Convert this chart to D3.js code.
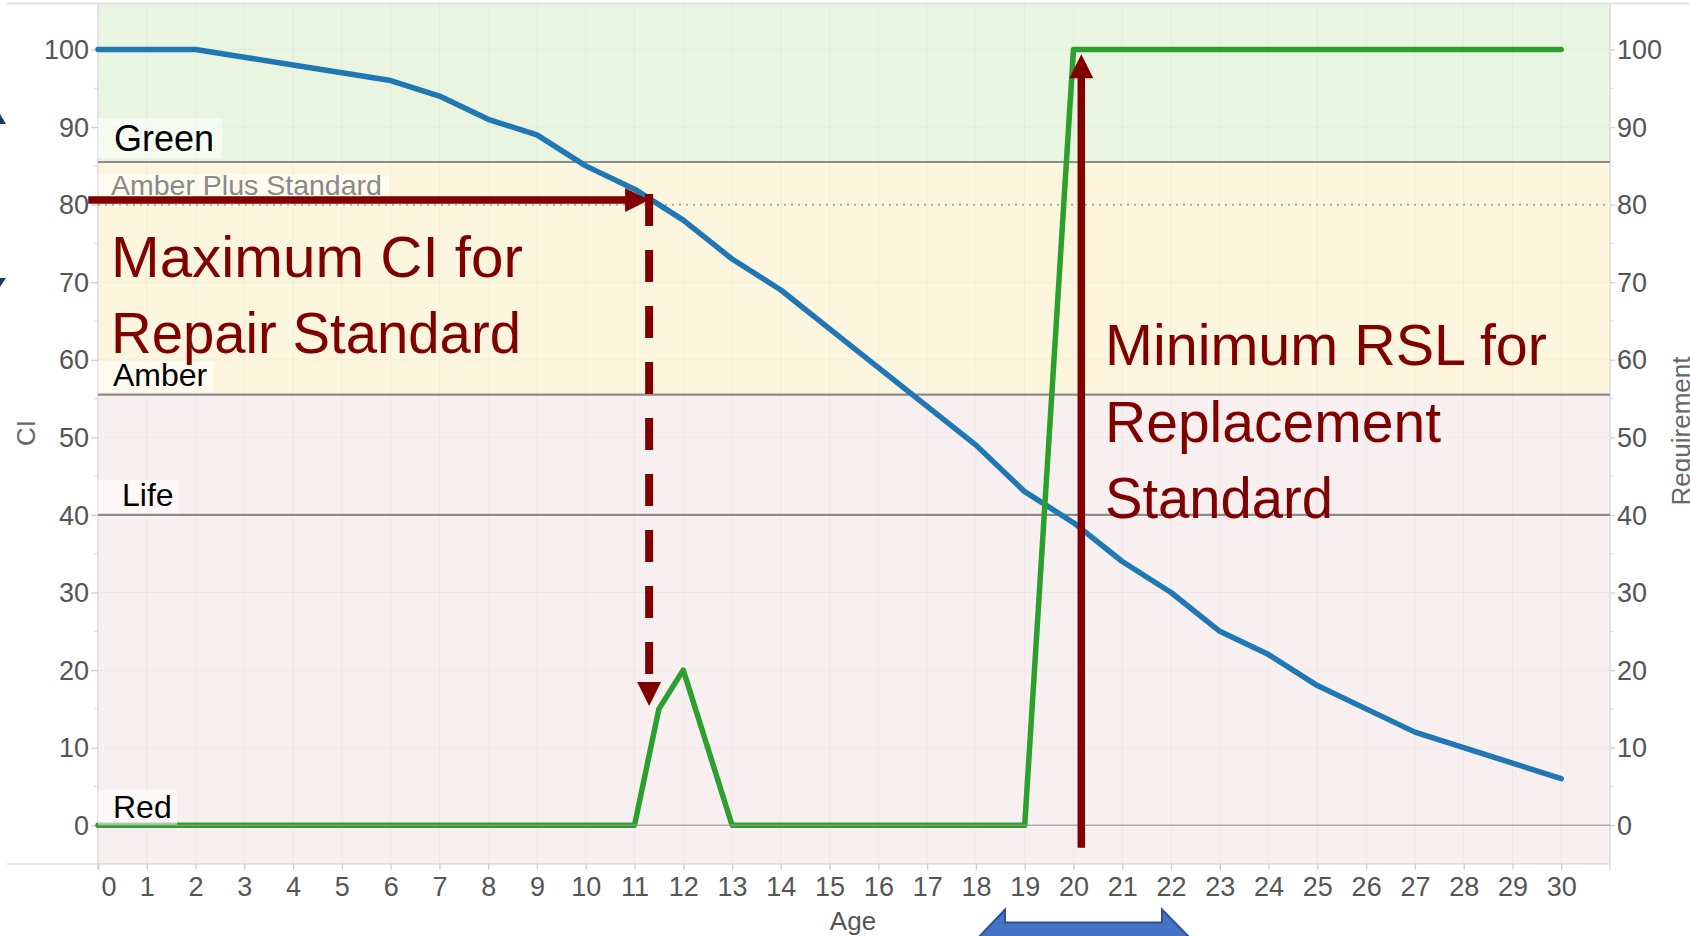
<!DOCTYPE html>
<html>
<head>
<meta charset="utf-8">
<script src="https://cdn.jsdelivr.net/npm/d3@7"></script>
<style>
  html, body { margin: 0; padding: 0; background: #fff; }
  svg { display: block; }
  text { font-family: "Liberation Sans", Arial, sans-serif; }
</style>
</head>
<body>
<svg id="chart" width="1690" height="936"></svg>
<script>
// ---------------- data ----------------
const ciAges = [0,1,2,3,4,5,6,7,8,9,10,11,12,13,14,15,16,17,18,19,20,21,22,23,24,25,26,27,28,29,30];
const ciValues = [100,100,100,99,98,97,96,94,91,89,85,82,78,73,69,64,59,54,49,43,39,34,30,25,22,18,15,12,10,8,6];

const reqAges = [0,1,2,3,4,5,6,7,8,9,10,11,11.5,12,13,14,15,16,17,18,19,20,21,22,23,24,25,26,27,28,29,30];
const reqValues = [0,0,0,0,0,0,0,0,0,0,0,0,15,20,0,0,0,0,0,0,0,100,100,100,100,100,100,100,100,100,100,100];

const xTicks = [0,1,2,3,4,5,6,7,8,9,10,11,12,13,14,15,16,17,18,19,20,21,22,23,24,25,26,27,28,29,30];
const yTicks = [0,10,20,30,40,50,60,70,80,90,100];
const yMinorTicks = [5,15,25,35,45,55,65,75,85,95];

const bandEdges = [106, 85.5, 55.5, -5];           // Green / Amber / Red bands
const bandNames = ["Green", "Amber", "Red"];
const refLines = [85.5, 55.5, 40];
const lifeValue = 40;
const amberPlusValue = 80;

const repairAge = 11.3, repairCI = 80.6;            // annotation: max CI for repair
const replaceAge = 20.16, replaceFrom = -2.9, replaceTo = 99.4;

// ---------------- layout ----------------
const svg = d3.select("#chart");
const L = 98, R = 1610, T = 3, B = 864;
const x = d3.scaleLinear().domain([0, 31]).range([L, R]);
const y = d3.scaleLinear().domain([-5, 106]).range([B, T]);

const bandColors = ["#e9f5e0", "#fdf6df", "#f8f0f0"];

// bands
const g0 = svg.append("g");
bandNames.forEach((n, i) => {
  g0.append("rect")
    .attr("x", L).attr("width", R - L)
    .attr("y", y(bandEdges[i])).attr("height", y(bandEdges[i + 1]) - y(bandEdges[i]))
    .attr("fill", bandColors[i]);
});

// gridlines
const grid = svg.append("g");
grid.selectAll("line.v").data(xTicks.concat([31])).join("line")
  .attr("x1", d => x(d)).attr("x2", d => x(d)).attr("y1", T).attr("y2", B)
  .attr("stroke", "rgba(0,0,0,0.035)").attr("stroke-width", 1);
grid.selectAll("line.h").data(yTicks).join("line")
  .attr("x1", L).attr("x2", R).attr("y1", d => y(d)).attr("y2", d => y(d))
  .attr("stroke", "rgba(0,0,0,0.03)").attr("stroke-width", 1);

// frame lines
svg.append("line").attr("x1", 7).attr("x2", 1690).attr("y1", 3.5).attr("y2", 3.5).attr("stroke", "#dcdcdc").attr("stroke-width", 1.5);
svg.append("line").attr("x1", 7).attr("x2", R).attr("y1", B).attr("y2", B).attr("stroke", "#dcdcdc").attr("stroke-width", 1.5);
svg.append("line").attr("x1", L).attr("x2", L).attr("y1", T).attr("y2", B + 6).attr("stroke", "#dcdcdc").attr("stroke-width", 1.5);
svg.append("line").attr("x1", R).attr("x2", R).attr("y1", T).attr("y2", B + 6).attr("stroke", "#dcdcdc").attr("stroke-width", 1.5);

// reference lines
svg.selectAll("line.ref").data(refLines).join("line")
  .attr("x1", L).attr("x2", R).attr("y1", d => y(d)).attr("y2", d => y(d))
  .attr("stroke", "#8c8c8c").attr("stroke-width", 2.2);
svg.append("line")
  .attr("x1", L).attr("x2", R).attr("y1", y(amberPlusValue)).attr("y2", y(amberPlusValue))
  .attr("stroke", "#a8a8a8").attr("stroke-width", 2).attr("stroke-dasharray", "2,5");

// axes
function styleAxis(g, fs) {
  g.select(".domain").remove();
  g.selectAll(".tick line").attr("stroke", "#cfcfcf").attr("stroke-width", 1.3);
  g.selectAll(".tick text").attr("fill", "#555").attr("font-size", fs)
    .attr("font-family", "'Liberation Sans', Arial, sans-serif");
}
const yl = svg.append("g").attr("transform", `translate(${L},0)`)
  .call(d3.axisLeft(y).tickValues(yTicks).tickSize(7).tickPadding(2));
styleAxis(yl, 27);
yl.selectAll(".tick text").attr("dy", "0.34em");

const yr = svg.append("g").attr("transform", `translate(${R},0)`)
  .call(d3.axisRight(y).tickValues(yTicks).tickSize(5).tickPadding(2));
styleAxis(yr, 27);
yr.selectAll(".tick text").attr("dy", "0.34em");

[L, R].forEach((ax, i) => {
  svg.selectAll(null).data(yMinorTicks).join("line")
    .attr("x1", ax).attr("x2", i === 0 ? ax - 4 : ax + 4)
    .attr("y1", d => y(d)).attr("y2", d => y(d))
    .attr("stroke", "#dedede").attr("stroke-width", 1.2);
});

const xa = svg.append("g").attr("transform", `translate(0,${B})`)
  .call(d3.axisBottom(x).tickValues(xTicks).tickSize(6).tickPadding(7));
styleAxis(xa, 27);
xa.selectAll(".tick text").filter(d => d === 0).attr("text-anchor", "start").attr("x", 3);

// axis titles
svg.append("text").attr("transform", "translate(35,433) rotate(-90)")
  .attr("text-anchor", "middle").attr("font-size", 26).attr("fill", "#666").text("CI");
svg.append("text").attr("x", 853).attr("y", 930)
  .attr("text-anchor", "middle").attr("font-size", 26).attr("fill", "#555").text("Age");
svg.append("text").attr("transform", "translate(1690,431) rotate(-90)")
  .attr("text-anchor", "middle").attr("font-size", 26).attr("fill", "#666").text("Requirement");

// data lines
const lineGen = d3.line().x(d => x(d[0])).y(d => y(d[1]));
svg.append("path").datum(ciAges.map((a, i) => [a, ciValues[i]]))
  .attr("d", lineGen).attr("fill", "none").attr("stroke", "#1f77b4")
  .attr("stroke-width", 5.5).attr("stroke-linejoin", "round").attr("stroke-linecap", "round");
svg.append("path").datum(reqAges.map((a, i) => [a, reqValues[i]]))
  .attr("d", lineGen).attr("fill", "none").attr("stroke", "#2ca02c")
  .attr("stroke-width", 5.5).attr("stroke-linejoin", "round").attr("stroke-linecap", "round");
// zero reference line over lines
svg.append("line").attr("x1", L).attr("x2", R).attr("y1", y(0)).attr("y2", y(0))
  .attr("stroke", "#999").attr("stroke-width", 1.6).attr("opacity", 0.75);

// reference labels with translucent boxes
const labels = [
  { t: "Green", v: bandEdges[1], fs: 36, col: "#000", w: 124, h: 40, off: 11, tx: 16 },
  { t: "Amber Plus Standard", v: amberPlusValue, fs: 28.5, col: "#8a8a8a", w: 291, h: 27, off: 9.5, tx: 13 },
  { t: "Amber", v: bandEdges[2], fs: 32, col: "#000", w: 115, h: 31, off: 9, tx: 15 },
  { t: "Life", v: lifeValue, fs: 32, col: "#000", w: 81, h: 33, off: 8.5, tx: 24 },
  { t: "Red", v: 0, fs: 32, col: "#000", w: 79, h: 35, off: 7.5, tx: 15 }
];
labels.forEach(l => {
  const base = y(l.v) - l.off;
  svg.append("rect").attr("x", L).attr("y", base - l.h + 7).attr("width", l.w).attr("height", l.h)
    .attr("fill", "rgba(255,255,255,0.55)");
  svg.append("text").attr("x", L + l.tx).attr("y", base).attr("font-size", l.fs)
    .attr("fill", l.col).text(l.t);
});

// annotations
const red = "#800000";
// horizontal arrow
const hy = y(repairCI), hx1 = x(-0.2), hx2 = x(repairAge);
svg.append("line").attr("x1", hx1).attr("x2", hx2 - 22).attr("y1", hy).attr("y2", hy)
  .attr("stroke", red).attr("stroke-width", 7.5);
svg.append("path").attr("d", `M${hx2},${hy} L${hx2 - 24},${hy - 12} L${hx2 - 24},${hy + 12} Z`).attr("fill", red);
// dashed vertical arrow down to requirement peak
const dx = x(repairAge), dTop = hy - 6, dTip = 706;
svg.append("line").attr("x1", dx).attr("x2", dx).attr("y1", dTop).attr("y2", dTip - 24)
  .attr("stroke", red).attr("stroke-width", 8).attr("stroke-dasharray", "32,24");
svg.append("path").attr("d", `M${dx},${dTip} L${dx - 12},${dTip - 24} L${dx + 12},${dTip - 24} Z`).attr("fill", red);
// vertical solid arrow up
const vx = x(replaceAge), vy1 = y(replaceFrom), vy2 = y(replaceTo);
svg.append("line").attr("x1", vx).attr("x2", vx).attr("y1", vy1).attr("y2", vy2 + 22)
  .attr("stroke", red).attr("stroke-width", 7.5);
svg.append("path").attr("d", `M${vx},${vy2} L${vx - 12},${vy2 + 24} L${vx + 12},${vy2 + 24} Z`).attr("fill", red);

const annFont = "Carlito, Calibri, Lato, 'Open Sans', sans-serif";
const annText = [
  { t: "Maximum CI for", x: 111, y: 277, w: 412 },
  { t: "Repair Standard", x: 111, y: 353, w: 410 },
  { t: "Minimum RSL for", x: 1105, y: 365, w: 442 },
  { t: "Replacement", x: 1105, y: 442, w: 336 },
  { t: "Standard", x: 1105, y: 518, w: 228 }
];
annText.forEach(a => {
  svg.append("text").attr("x", a.x).attr("y", a.y).attr("font-size", 57)
    .attr("font-family", annFont).attr("fill", red)
    .attr("textLength", a.w).attr("lengthAdjust", "spacingAndGlyphs").text(a.t);
});

// slide fragments: blue arrow at bottom, small navy marks at left
svg.append("path")
  .attr("d", "M978,938 L1005,909.5 L1005,922.5 L1162,922.5 L1162,909.5 L1190,938 Z")
  .attr("fill", "#4472c4").attr("stroke", "#2f528f").attr("stroke-width", 2);
svg.append("path").attr("d", "M0,114 L6,124 L0,124 Z").attr("fill", "#1f3864");
svg.append("path").attr("d", "M0,278 L6,278 L0,287 Z").attr("fill", "#1f3864");
</script>
</body>
</html>
